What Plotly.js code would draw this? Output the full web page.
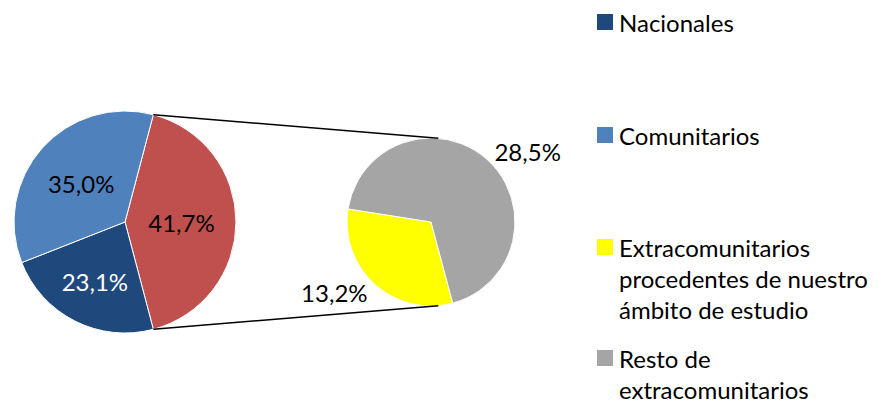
<!DOCTYPE html>
<html><head><meta charset="utf-8">
<script src="https://cdn.plot.ly/plotly-3.0.1.min.js"></script>
<style>html,body{margin:0;padding:0;background:#fff}</style>
</head><body><div id="chart" style="width:879px;height:404px"></div>
<script>
// ---- data ----
const mainLabels = ['Extracomunitarios', 'Nacionales', 'Comunitarios'];
const mainValues = [41.7, 23.1, 35.0];
const mainColors = ['#C0504D', '#1F497D', '#4F81BD'];
const mainTextColors = ['#000000', '#FFFFFF', '#000000'];
const subLabels = ['Extracomunitarios procedentes de nuestro ámbito de estudio', 'Resto de extracomunitarios'];
const subValues = [13.2, 28.5];
const subColors = ['#FFFF00', '#A5A5A5'];
const legendLabels = [['Nacionales'], ['Comunitarios'], ['Extracomunitarios', 'procedentes de nuestro', 'ámbito de estudio'], ['Resto de', 'extracomunitarios']];
const legendColors = ['#1F497D', '#4F81BD', '#FFFF00', '#A5A5A5'];

// ---- layout geometry (pixels) ----
const W = 879, H = 404;
const mainC = {x: 125, y: 222, r: 111};
const subC = {x: 431, y: 222, r: 84};
const FONT = 'Lato, "Open Sans", sans-serif';
const FS = 24;

const px = x => x / W, py = y => 1 - y / H;
function domainOf(c) {
  return {x: [px(c.x - c.r), px(c.x + c.r)], y: [py(c.y + c.r), py(c.y - c.r)]};
}
const mainTotal = mainValues.reduce((a, b) => a + b, 0);
const redSpan = 360 * mainValues[0] / mainTotal;
const mainRotation = 90 - redSpan / 2;

const traces = [
  {
    type: 'pie', labels: mainLabels, values: mainValues, sort: false,
    direction: 'clockwise', rotation: mainRotation, domain: domainOf(mainC),
    marker: {colors: mainColors, line: {color: '#FFFFFF', width: 1}},
    textinfo: 'value', texttemplate: '%{value:.1f}%', textposition: 'inside',
    insidetextorientation: 'horizontal',
    textfont: {family: FONT, size: FS, color: mainTextColors},
    showlegend: false, hoverinfo: 'label+value'
  },
  {
    type: 'pie', labels: subLabels, values: subValues, sort: false,
    direction: 'clockwise', rotation: 165, domain: domainOf(subC),
    marker: {colors: subColors, line: {color: '#FFFFFF', width: 1}},
    texttemplate: '%{value:.1f}%', textposition: 'outside',
    outsidetextfont: {family: FONT, size: FS, color: '#000000'},
    textfont: {family: FONT, size: FS, color: '#000000'},
    showlegend: false, hoverinfo: 'label+value'
  }
];

// connector lines between red slice edges and secondary pie
const rad = d => d * Math.PI / 180;
function pt(c, bearing) { return {x: c.x + c.r * Math.sin(rad(bearing)), y: c.y - c.r * Math.cos(rad(bearing))}; }
const a1 = pt(mainC, mainRotation), a2 = pt(mainC, mainRotation + redSpan);
const b1 = pt(subC, 5), b2 = pt(subC, 175);
const shapes = [
  {type: 'line', xref: 'paper', yref: 'paper', x0: px(a1.x), y0: py(a1.y), x1: px(b1.x), y1: py(b1.y), line: {color: '#000000', width: 1.5}},
  {type: 'line', xref: 'paper', yref: 'paper', x0: px(a2.x), y0: py(a2.y), x1: px(b2.x), y1: py(b2.y), line: {color: '#000000', width: 1.5}}
];

// custom legend
const legendTop = [22, 135, 247, 358];
const lineGap = 31;
const annotations = [];
legendLabels.forEach((lines, i) => {
  const y = legendTop[i];
  shapes.push({type: 'rect', xref: 'paper', yref: 'paper', x0: px(597), x1: px(613), y0: py(y + 8), y1: py(y - 8),
    fillcolor: legendColors[i], line: {width: 0}});
  lines.forEach((t, j) => {
    annotations.push({xref: 'paper', yref: 'paper', x: px(618), y: py(y + j * lineGap), xanchor: 'left', yanchor: 'middle',
      text: t, showarrow: false, borderpad: 0, font: {family: FONT, size: FS, color: '#000000'}});
  });
});

const layout = {
  width: W, height: H, margin: {l: 0, r: 0, t: 0, b: 0},
  paper_bgcolor: '#FFFFFF', plot_bgcolor: '#FFFFFF',
  separators: ',.', showlegend: false,
  shapes: shapes, annotations: annotations,
  font: {family: FONT, size: FS, color: '#000000'}
};
Plotly.newPlot('chart', traces, layout, {displayModeBar: false, staticPlot: true});
</script></body></html>
